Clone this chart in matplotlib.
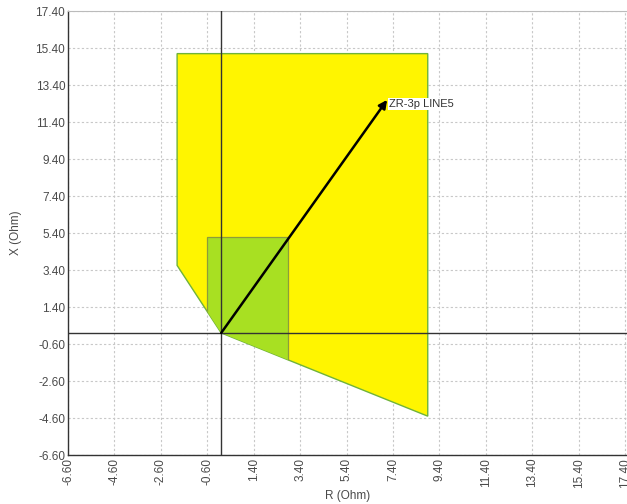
import matplotlib
matplotlib.use("Agg")
import matplotlib.pyplot as plt
from matplotlib.patches import Polygon, Rectangle

plt.rcParams['font.family'] = ['Liberation Sans', 'DejaVu Sans']

# zone polygon (yellow), R / X in Ohm
zoneR = [-1.9, 8.9, 8.9, 0.0, -1.9]
zoneX = [15.1, 15.1, -4.5, 0.0, 3.65]

# inner zone (green) rectangle, clipped by the outer zone
innerR = [-0.6, 2.88]
innerX = [-2.0, 5.2]

# line impedance vector
lineR = [0.0, 7.15]
lineX = [0.0, 12.6]
lineName = "ZR-3p LINE5"

xTicks = [-6.6, -4.6, -2.6, -0.6, 1.4, 3.4, 5.4, 7.4, 9.4, 11.4, 13.4, 15.4, 17.4]
yTicks = [-6.6, -4.6, -2.6, -0.6, 1.4, 3.4, 5.4, 7.4, 9.4, 11.4, 13.4, 15.4, 17.4]

txtColor = "#4a4a4a"

fig = plt.figure(figsize=(6.27, 5.04), dpi=100, facecolor="white")
ax = fig.add_axes([0.1085, 0.0972, 0.8915, 0.8808])

ax.set_xlim(-6.6, 17.486)
ax.set_ylim(-6.6, 17.4)

# outer zone
zone = Polygon(list(zip(zoneR, zoneX)), closed=True, facecolor="#fff500",
               edgecolor="#6fb33a", linewidth=1.0, zorder=2)
ax.add_patch(zone)

# inner zone, clipped to the outer one
inner = Rectangle((innerR[0], innerX[0]), innerR[1] - innerR[0], innerX[1] - innerX[0],
                  facecolor="#a8e022", edgecolor="#8c9d3a", linewidth=0.9, zorder=3)
ax.add_patch(inner)
inner.set_clip_path(zone)

# axis cross lines
ax.axhline(0, color="#333333", linewidth=1.0, zorder=4)
ax.axvline(0, color="#333333", linewidth=1.0, zorder=4)

# line vector
ax.annotate("", xy=(lineR[1], lineX[1]), xytext=(lineR[0], lineX[0]),
            arrowprops=dict(arrowstyle="-|>", color="black", lw=1.8,
                            mutation_scale=12, shrinkA=0, shrinkB=0), zorder=5)
ax.text(lineR[1] + 0.1, lineX[1] + 0.05, lineName, ha="left", va="top",
        fontsize=8, color="#333333", zorder=6,
        bbox=dict(boxstyle="square,pad=0.1", fc="white", ec="none"))

ax.set_xticks(xTicks)
ax.set_yticks(yTicks)
ax.set_xticklabels(["%.2f" % v for v in xTicks], rotation=90)
ax.set_yticklabels(["%.2f" % v for v in yTicks])
ax.tick_params(length=0, pad=2, labelsize=8.5, labelcolor=txtColor)

ax.grid(True, color="#c8c8c8", linestyle=(0, (2, 2)), linewidth=0.8, zorder=0)
ax.set_axisbelow(True)

for side in ["left", "bottom"]:
    ax.spines[side].set_color("#333333")
    ax.spines[side].set_linewidth(1.0)
ax.spines["top"].set_color("#bbbbbb")
ax.spines["right"].set_visible(False)

ax.set_xlabel("R (Ohm)", fontsize=8.5, color=txtColor, labelpad=2)
ax.set_ylabel("X (Ohm)", fontsize=8.5, color=txtColor, labelpad=10)

fig.savefig("out.png", dpi=100, facecolor="white")
